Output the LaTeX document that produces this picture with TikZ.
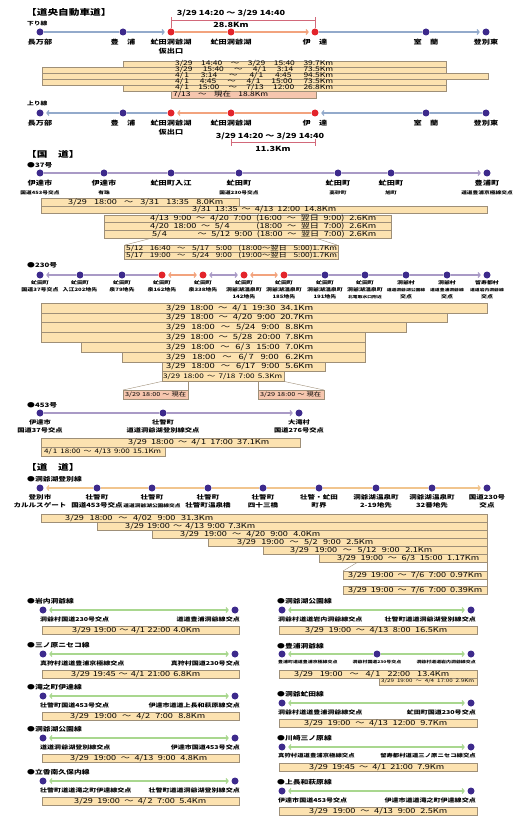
\documentclass[tikz,border=0pt]{standalone}
\usepackage{fontspec}
\setmainfont[FakeStretch=1.3]{Noto Sans CJK JP}
\usetikzlibrary{positioning, arrows.meta}
\definecolor{StopViolet}{HTML}{3D2A8C}
\definecolor{StopRed}{HTML}{E3242B}
\definecolor{HwyBlue}{HTML}{93AACB}
\definecolor{HwyOrange}{HTML}{F2A37E}
\definecolor{NatLilac}{HTML}{A99AC6}
\definecolor{PrefOrange}{HTML}{F1C58E}
\definecolor{LinkGreen}{HTML}{A9D78F}
\definecolor{BarTan}{HTML}{FCE2B0}
\definecolor{BarEdge}{HTML}{9E8F78}
\definecolor{BarPink}{HTML}{F6C6AE}
\definecolor{DimRed}{HTML}{D2697A}
\newcommand\subplace{\fontsize{4.4}{8.5}\selectfont}
\newcommand\microplace{\fontsize{3.7}{7}\selectfont}

\begin{document}
\begin{tikzpicture}[
  x=1pt, y=-1pt,
  stopdot/.style={circle, fill=StopViolet, inner sep=0pt, minimum size=7pt},
  hotdot/.style={circle, fill=StopRed, inner sep=0pt, minimum size=7pt},
  sectitle/.style={font=\fontsize{8.2}{9}\selectfont\bfseries, anchor=west, inner sep=0pt},
  routename/.style={font=\fontsize{6}{7}\selectfont\bfseries, anchor=west, inner sep=0pt},
  placetxt/.style={font=\fontsize{6.3}{9}\selectfont\bfseries, align=center, inner sep=0pt},
  smallplace/.style={font=\fontsize{4.6}{7}\selectfont\bfseries, align=center, inner sep=0pt},
  endplace/.style={font=\fontsize{5.4}{7}\selectfont\bfseries, inner sep=0pt},
  barbox/.style={draw=BarEdge, fill=BarTan, line width=0.5pt},
  nowbox/.style={draw=BarEdge, fill=BarPink, line width=0.5pt},
  bartext/.style={font=\fontsize{7}{8}\selectfont, anchor=west, inner sep=0pt},
  fanline/.style={draw=BarEdge, line width=0.4pt},
  hwyline/.style={draw=HwyBlue, line width=1.2pt},
  hotline/.style={draw=HwyOrange, line width=1.2pt},
  natline/.style={draw=NatLilac, line width=1.2pt},
  prefline/.style={draw=PrefOrange, line width=1.2pt},
  linkline/.style={draw=LinkGreen, line width=1.2pt},
  endtip/.style={-{Straight Barb[length=2pt, width=5pt]}, shorten >=2.5pt},
  bothtips/.style={{Straight Barb[length=2pt, width=5pt]}-{Straight Barb[length=2pt, width=5pt]},
    shorten >=2.5pt, shorten <=2.5pt},
  dimline/.style={draw=DimRed, line width=0.5pt},
  dimtext/.style={font=\fontsize{7}{8}\selectfont\bfseries, inner sep=0pt}
]
\useasboundingbox (0,0) rectangle (527,826);

% ---- 道央自動車道 (下り)
\node[sectitle] (hwytitle) at (26,12) {【道央自動車道】};
\node[routename, font=\fontsize{5.2}{6}\selectfont\bfseries] (downlbl) at (27,24) {下り線};

\node[stopdot] (kd1) at (40,32) {};
\node[stopdot] (kd2) at (123,32) {};
\node[hotdot] (kd3) at (171,32) {};
\node[hotdot] (kd4) at (231,32) {};
\node[hotdot] (kd5) at (315,32) {};
\node[stopdot] (kd6) at (426,32) {};
\node[stopdot] (kd7) at (486,32) {};

\draw[hwyline] (kd1) -- (kd2);
\draw[hwyline, endtip] (kd2) -- (kd3);
\draw[hotline] (kd3) -- (kd4);
\draw[hotline, endtip] (kd4) -- (kd5);
\draw[hwyline] (kd5) -- (kd6);
\draw[hwyline, endtip] (kd6) -- (kd7);

\node[placetxt, below=3pt of kd1] (kd1t) {長万部};
\node[placetxt, below=3pt of kd2] (kd2t) {豊　浦};
\node[placetxt, below=3pt of kd3] (kd3t) {虻田洞爺湖\\仮出口};
\node[placetxt, below=3pt of kd4] (kd4t) {虻田洞爺湖};
\node[placetxt, below=3pt of kd5] (kd5t) {伊　達};
\node[placetxt, below=3pt of kd6] (kd6t) {室　蘭};
\node[placetxt, below=3pt of kd7] (kd7t) {登別東};

% span above the closed section
\coordinate (dimA) at (171,20);
\coordinate (dimB) at (315,20);
\draw[dimline] (kd3.north) -- ++(0,-11);
\draw[dimline] (kd5.north) -- ++(0,-11);
\draw[dimline] (dimA) -- (dimB);
\node[dimtext] (dimtime1) at (231,13) {3/29 14:20 ～ 3/29 14:40};
\node[dimtext] (dimlen1) at (231,25) {28.8Km};

\path[barbox] (123,61) rectangle (446,67);
\path[barbox] (42,67) rectangle (446,73);
\path[barbox] (42,73) rectangle (488,79);
\path[barbox] (42,79) rectangle (446,85);
\path[barbox] (123,85) rectangle (446,91);
\path[nowbox] (171,91) rectangle (316,98);
\node[bartext, font=\fontsize{6.5}{7}\selectfont] (kb1) at (175,64) {\makebox[158pt][s]{3/29 14:40 ～ 3/29 15:40 39.7Km}};
\node[bartext, font=\fontsize{6.5}{7}\selectfont] (kb2) at (175,70) {\makebox[158pt][s]{3/29 15:40 ～ 4/\,1 3:14 73.5Km}};
\node[bartext, font=\fontsize{6.5}{7}\selectfont] (kb3) at (175,76) {\makebox[158pt][s]{4/\,1 3:14 ～ 4/\,1 4:45 94.5Km}};
\node[bartext, font=\fontsize{6.5}{7}\selectfont] (kb4) at (175,82) {\makebox[158pt][s]{4/\,1 4:45 ～ 4/\,1 15:00 73.5Km}};
\node[bartext, font=\fontsize{6.5}{7}\selectfont] (kb5) at (175,88) {\makebox[158pt][s]{4/\,1 15:00 ～ 7/13 12:00 26.8Km}};
\node[bartext, font=\fontsize{6.5}{7}\selectfont] (kb6) at (173,94.5) {\makebox[95pt][s]{7/13 ～ 現在 18.8Km}};

% ---- 道央自動車道 (上り)
\node[routename, font=\fontsize{5.2}{6}\selectfont\bfseries] (uplbl) at (27,104) {上り線};

\node[stopdot] (ku1) at (40,113) {};
\node[stopdot] (ku2) at (123,113) {};
\node[hotdot] (ku3) at (171,113) {};
\node[hotdot] (ku4) at (231,113) {};
\node[hotdot] (ku5) at (315,113) {};
\node[stopdot] (ku6) at (426,113) {};
\node[stopdot] (ku7) at (486,113) {};

\draw[hwyline] (ku3) -- (ku2);
\draw[hwyline, endtip] (ku2) -- (ku1);
\draw[hotline] (ku5) -- (ku4);
\draw[hotline, endtip] (ku4) -- (ku3);
\draw[hwyline] (ku7) -- (ku6);
\draw[hwyline, endtip] (ku6) -- (ku5);

\node[placetxt, below=3pt of ku1] (ku1t) {長万部};
\node[placetxt, below=3pt of ku2] (ku2t) {豊　浦};
\node[placetxt, below=3pt of ku3] (ku3t) {虻田洞爺湖\\仮出口};
\node[placetxt, below=3pt of ku4] (ku4t) {虻田洞爺湖};
\node[placetxt, below=3pt of ku5] (ku5t) {伊　達};
\node[placetxt, below=3pt of ku6] (ku6t) {室　蘭};
\node[placetxt, below=3pt of ku7] (ku7t) {登別東};

\coordinate (dimC) at (231,142);
\coordinate (dimD) at (315,142);
\draw[dimline] (dimC) -- (dimD);
\draw[dimline] (dimC) ++(0,-3) -- ++(0,7);
\draw[dimline] (dimD) ++(0,-3) -- ++(0,7);
\node[dimtext] (dimtime2) at (270,136) {3/29 14:20 ～ 3/29 14:40};
\node[dimtext] (dimlen2) at (273,149) {11.3Km};

% ---- 国道 37号
\node[sectitle] (nattitle) at (26,154) {【国　道】};
\node[routename] (r37) at (27,165) {●37号};

\node[stopdot] (n37a) at (40,173) {};
\node[stopdot] (n37b) at (104,173) {};
\node[stopdot] (n37c) at (171,173) {};
\node[stopdot] (n37d) at (239,173) {};
\node[stopdot] (n37e) at (338,173) {};
\node[stopdot] (n37f) at (391,173) {};
\node[stopdot] (n37g) at (487,173) {};
\draw[natline, endtip] (n37a) -- (n37b) -- (n37c) -- (n37d) -- (n37e) -- (n37f) -- (n37g);

\node[placetxt, below=3pt of n37a] (n37at) {伊達市\\\subplace 国道453号交点};
\node[placetxt, below=3pt of n37b] (n37bt) {伊達市\\\subplace 有珠};
\node[placetxt, below=3pt of n37c] (n37ct) {虻田町入江};
\node[placetxt, below=3pt of n37d] (n37dt) {虻田町\\\subplace 国道230号交点};
\node[placetxt, below=3pt of n37e] (n37et) {虻田町\\\subplace 高砂町};
\node[placetxt, below=3pt of n37f] (n37ft) {虻田町\\\subplace 旭町};
\node[placetxt, below=3pt of n37g] (n37gt) {豊浦町\\\subplace 道道豊浦京極線交点};

\path[barbox] (41,198) rectangle (239,205.8);
\path[barbox] (41,205.8) rectangle (487,213.6);
\path[barbox] (104,215) rectangle (391,222.6);
\path[barbox] (104,222.6) rectangle (391,230.2);
\path[barbox] (104,230.2) rectangle (391,237.8);
\draw[fanline] (153,237.8) -- (125,245);
\draw[fanline] (315,237.8) -- (337,245);
\path[barbox] (124,245) rectangle (338,252);
\path[barbox] (124,252) rectangle (338,259);
\node[bartext] (nb1) at (68,201.9) {\makebox[155pt][s]{3/29 18:00 ～ 3/31 13:35 8.0Km}};
\node[bartext] (nb2) at (192,209.7) {\makebox[144pt][s]{3/31 13:35 ～ 4/13 12:00 14.8Km}};
\node[bartext] (nb3) at (150,218.8) {\makebox[226pt][s]{4/13 9:00 ～ 4/20 7:00 (16:00 ～ 翌日 9:00) 2.6Km}};
\node[bartext] (nb4) at (150,226.4) {\makebox[226pt][s]{4/20 18:00 ～ 5/\,4\hspace{22pt} (18:00 ～ 翌日 7:00) 2.6Km}};
\node[bartext] (nb5) at (152,234) {\makebox[224pt][s]{5/\,4\hspace{26pt} ～ 5/12 9:00 (18:00 ～ 翌日 7:00) 2.6Km}};
\node[bartext, font=\fontsize{6.4}{7}\selectfont] (nb6) at (126,248.5) {\makebox[211pt][s]{5/12 16:40 ～ 5/17 5:00 (18:00～翌日 5:00)1.7Km}};
\node[bartext, font=\fontsize{6.4}{7}\selectfont] (nb7) at (126,255.5) {\makebox[211pt][s]{5/17 19:00 ～ 5/24 9:00 (19:00～翌日 5:00)1.7Km}};

% ---- 国道 230号
\node[routename] (r230) at (27,265) {●230号};

\node[stopdot] (n230a) at (40,275) {};
\node[stopdot] (n230b) at (80,275) {};
\node[stopdot] (n230c) at (122,275) {};
\node[hotdot] (n230d) at (162,275) {};
\node[hotdot] (n230e) at (203,275) {};
\node[hotdot] (n230f) at (244,275) {};
\node[hotdot] (n230g) at (284,275) {};
\node[stopdot] (n230h) at (325,275) {};
\node[stopdot] (n230i) at (365,275) {};
\node[stopdot] (n230j) at (406,275) {};
\node[stopdot] (n230k) at (447,275) {};
\node[stopdot] (n230l) at (487,275) {};
\draw[natline, endtip] (n230d) -- (n230c) -- (n230b) -- (n230a);
\draw[hotline, bothtips] (n230d) -- (n230e);
\draw[natline, bothtips] (n230e) -- (n230f);
\draw[hotline, bothtips] (n230f) -- (n230g);
\draw[natline, endtip] (n230g) -- (n230h) -- (n230i) -- (n230j) -- (n230k) -- (n230l);

\node[smallplace, below=1.5pt of n230a] (n230at) {虻田町\\国道37号交点};
\node[smallplace, below=1.5pt of n230b] (n230bt) {虻田町\\入江202地先};
\node[smallplace, below=1.5pt of n230c] (n230ct) {虻田町\\泉79地先};
\node[smallplace, below=1.5pt of n230d] (n230dt) {虻田町\\泉162地先};
\node[smallplace, below=1.5pt of n230e] (n230et) {虻田町\\泉338地先};
\node[smallplace, below=1.5pt of n230f] (n230ft) {虻田町\\洞爺湖温泉町\\142地先};
\node[smallplace, below=1.5pt of n230g] (n230gt) {虻田町\\洞爺湖温泉町\\185地先};
\node[smallplace, below=1.5pt of n230h] (n230ht) {虻田町\\洞爺湖温泉町\\191地先};
\node[smallplace, below=1.5pt of n230i] (n230it) {虻田町\\洞爺湖温泉町\\\microplace 北電取水口附近};
\node[smallplace, below=1.5pt of n230j] (n230jt) {洞爺村\\\microplace 道道洞爺湖公園線\\交点};
\node[smallplace, below=1.5pt of n230k] (n230kt) {洞爺村\\\microplace 道道豊浦洞爺線\\交点};
\node[smallplace, below=1.5pt of n230l] (n230lt) {留寿都村\\\microplace 道道岩内洞爺線\\交点};

\path[barbox] (41,303) rectangle (487,312.8);
\path[barbox] (41,312.8) rectangle (447,322.6);
\path[barbox] (41,322.6) rectangle (406,332.4);
\path[barbox] (41,332.4) rectangle (365,342.2);
\path[barbox] (81,342.2) rectangle (365,352);
\path[barbox] (122,352) rectangle (365,361.8);
\path[barbox] (162,361.8) rectangle (325,371.6);
\path[barbox] (162,371.6) rectangle (284,381.4);
\node[bartext, font=\fontsize{7.2}{8}\selectfont] (sb1) at (166,307.9) {\makebox[147pt][s]{3/29 18:00 ～ 4/\,1 19:30 34.1Km}};
\node[bartext, font=\fontsize{7.2}{8}\selectfont] (sb2) at (166,317.7) {\makebox[147pt][s]{3/29 18:00 ～ 4/20 9:00 20.7Km}};
\node[bartext, font=\fontsize{7.2}{8}\selectfont] (sb3) at (166,327.5) {\makebox[147pt][s]{3/29 18:00 ～ 5/24 9:00 8.8Km}};
\node[bartext, font=\fontsize{7.2}{8}\selectfont] (sb4) at (166,337.3) {\makebox[147pt][s]{3/29 18:00 ～ 5/28 20:00 7.8Km}};
\node[bartext, font=\fontsize{7.2}{8}\selectfont] (sb5) at (166,347.1) {\makebox[147pt][s]{3/29 18:00 ～ 6/\,3 15:00 7.0Km}};
\node[bartext, font=\fontsize{7.2}{8}\selectfont] (sb6) at (166,356.9) {\makebox[147pt][s]{3/29 18:00 ～ 6/\,7 9:00 6.2Km}};
\node[bartext, font=\fontsize{7.2}{8}\selectfont] (sb7) at (166,366.7) {\makebox[147pt][s]{3/29 18:00 ～ 6/17 9:00 5.6Km}};
\node[bartext, font=\fontsize{6.3}{7}\selectfont] (sb8) at (163,376.5) {\makebox[119pt][s]{3/29 18:00 ～ 7/18 7:00 5.3Km}};

\draw[fanline] (162,381.4) -- (123,390);
\draw[fanline] (188,381.4) -- (188,390);
\draw[fanline] (258,381.4) -- (258,390);
\draw[fanline] (284,381.4) -- (324,390);
\path[nowbox] (123,390) rectangle (188,399);
\path[nowbox] (258,390) rectangle (324,399);
\node[bartext, font=\fontsize{5.6}{6}\selectfont] (sn1) at (125,394.5) {\makebox[61pt][s]{3/29 18:00 ～ 現在}};
\node[bartext, font=\fontsize{5.6}{6}\selectfont] (sn2) at (260,394.5) {\makebox[61pt][s]{3/29 18:00 ～ 現在}};

% ---- 国道 453号
\node[routename] (r453) at (27,405) {●453号};

\node[stopdot] (n453a) at (40,413) {};
\node[stopdot] (n453b) at (163,413) {};
\node[stopdot] (n453c) at (299,413) {};
\draw[natline, endtip] (n453a) -- (n453b) -- (n453c);

\node[placetxt, font=\fontsize{5.6}{8.5}\selectfont\bfseries, below=2.5pt of n453a] (n453at) {伊達市\\国道37号交点};
\node[placetxt, font=\fontsize{5.6}{8.5}\selectfont\bfseries, below=2.5pt of n453b] (n453bt) {壮瞥町\\道道洞爺湖登別線交点};
\node[placetxt, font=\fontsize{5.6}{8.5}\selectfont\bfseries, below=2.5pt of n453c] (n453ct) {大滝村\\国道276号交点};

\path[barbox] (41,438) rectangle (300,447);
\path[barbox] (41,447) rectangle (165,456);
\node[bartext] (fb1) at (128,442.5) {\makebox[141pt][s]{3/29 18:00 ～ 4/\,1 17:00 37.1Km}};
\node[bartext, font=\fontsize{6.2}{7}\selectfont] (fb2) at (44,451.5) {\makebox[117pt][s]{4/\,1 18:00 ～ 4/13 9:00 15.1Km}};

% ---- 道道 洞爺湖登別線
\node[sectitle] (preftitle) at (26,467) {【道　道】};
\node[routename] (rtb) at (27,479) {●洞爺湖登別線};

\node[stopdot] (dd1) at (40,488) {};
\node[stopdot] (dd2) at (97,488) {};
\node[stopdot] (dd3) at (152,488) {};
\node[stopdot] (dd4) at (208,488) {};
\node[stopdot] (dd5) at (263,488) {};
\node[stopdot] (dd6) at (319,488) {};
\node[stopdot] (dd7) at (376,488) {};
\node[stopdot] (dd8) at (432,488) {};
\node[stopdot] (dd9) at (487,488) {};
\draw[prefline, endtip] (dd2) -- (dd1);
\draw[prefline, endtip] (dd2) -- (dd3) -- (dd4) -- (dd5) -- (dd6) -- (dd7) -- (dd8) -- (dd9);

\node[placetxt, font=\fontsize{5.8}{8.5}\selectfont\bfseries, below=2.5pt of dd1] (dd1t) {登別市\\カルルスゲート};
\node[placetxt, font=\fontsize{5.8}{8.5}\selectfont\bfseries, below=2.5pt of dd2] (dd2t) {壮瞥町\\国道453号交点};
\node[placetxt, font=\fontsize{5.8}{8.5}\selectfont\bfseries, below=2.5pt of dd3] (dd3t) {壮瞥町\\\fontsize{4.4}{8.5}\selectfont 道道洞爺湖公園線交点};
\node[placetxt, font=\fontsize{5.8}{8.5}\selectfont\bfseries, below=2.5pt of dd4] (dd4t) {壮瞥町\\壮瞥町温泉橋};
\node[placetxt, font=\fontsize{5.8}{8.5}\selectfont\bfseries, below=2.5pt of dd5] (dd5t) {壮瞥町\\四十三橋};
\node[placetxt, font=\fontsize{5.8}{8.5}\selectfont\bfseries, below=2.5pt of dd6] (dd6t) {壮瞥・虻田\\町界};
\node[placetxt, font=\fontsize{5.8}{8.5}\selectfont\bfseries, below=2.5pt of dd7] (dd7t) {洞爺湖温泉町\\2-19地先};
\node[placetxt, font=\fontsize{5.8}{8.5}\selectfont\bfseries, below=2.5pt of dd8] (dd8t) {洞爺湖温泉町\\32番地先};
\node[placetxt, font=\fontsize{5.8}{8.5}\selectfont\bfseries, below=2.5pt of dd9] (dd9t) {国道230号\\交点};

\path[barbox] (41,514) rectangle (487,522);
\path[barbox] (97,522) rectangle (487,530);
\path[barbox] (152,530) rectangle (487,538);
\path[barbox] (208,538) rectangle (487,546);
\path[barbox] (263,546) rectangle (487,554);
\path[barbox] (319,554) rectangle (487,562);
\draw[fanline] (358,562) -- (343,571);
\draw[fanline] (487,562) -- (487,571);
\path[barbox] (343,571) rectangle (487,579);
\draw[fanline] (487,579) -- (487,586);
\path[barbox] (343,586) rectangle (487,594);
\node[bartext] (db1) at (65,518) {\makebox[148pt][s]{3/29 18:00 ～ 4/02 9:00 31.3Km}};
\node[bartext] (db2) at (125,526) {\makebox[130pt][s]{3/29 19:00 ～ 4/13 9:00 7.3Km}};
\node[bartext] (db3) at (180,534) {\makebox[140pt][s]{3/29 19:00 ～ 4/20 9:00 4.0Km}};
\node[bartext] (db4) at (237,542) {\makebox[136pt][s]{3/29 19:00 ～ 5/2 9:00 2.5Km}};
\node[bartext] (db5) at (290,550) {\makebox[142pt][s]{3/29 19:00 ～ 5/12 9:00 2.1Km}};
\node[bartext] (db6) at (337,558) {\makebox[142pt][s]{3/29 19:00 ～ 6/3 15:00 1.17Km}};
\node[bartext] (db7) at (348,575) {\makebox[134pt][s]{3/29 19:00 ～ 7/6 7:00 0.97Km}};
\node[bartext] (db8) at (348,590) {\makebox[134pt][s]{3/29 19:00 ～ 7/6 7:00 0.39Km}};

% ---- 道道 (左列)
\node[routename] (iwanai) at (27,601) {●岩内洞爺線};
\node[stopdot] (iwanaiA) at (43,610) {};
\node[stopdot] (iwanaiB) at (235,610) {};
\draw[linkline, bothtips] (iwanaiA) -- (iwanaiB);
\node[endplace, anchor=north west] (iwanaiAt) at (40,616.5) {洞爺村国道230号交点};
\node[endplace, anchor=north east] (iwanaiBt) at (240,616.5) {道道豊浦洞爺線交点};
\path[barbox] (42,626) rectangle (239,634);
\node[bartext] (iwanaiT) at (72,630) {\makebox[128pt][s]{3/29 19:00 ～ 4/1 22:00 4.0Km}};

\node[routename] (sannohara) at (27,645) {●三ノ原ニセコ線};
\node[stopdot] (sannoharaA) at (43,654) {};
\node[stopdot] (sannoharaB) at (235,654) {};
\draw[linkline, bothtips] (sannoharaA) -- (sannoharaB);
\node[endplace, anchor=north west] (sannoharaAt) at (40,660.5) {真狩村道道豊浦京極線交点};
\node[endplace, anchor=north east] (sannoharaBt) at (240,660.5) {真狩村国道230号交点};
\path[barbox] (42,670) rectangle (239,678);
\node[bartext] (sannoharaT) at (71,674) {\makebox[129pt][s]{3/29 19:45 ～ 4/1 21:00 6.8Km}};

\node[routename] (takino) at (27,687) {●滝之町伊達線};
\node[stopdot] (takinoA) at (43,696) {};
\node[stopdot] (takinoB) at (235,696) {};
\draw[linkline, bothtips] (takinoA) -- (takinoB);
\node[endplace, anchor=north west] (takinoAt) at (40,702.5) {壮瞥町国道453号交点};
\node[endplace, anchor=north east] (takinoBt) at (240,702.5) {伊達市道道上長和萩原線交点};
\path[barbox] (42,712) rectangle (239,720);
\node[bartext] (takinoT) at (70,716) {\makebox[135pt][s]{3/29 19:00 ～ 4/2 7:00 8.8Km}};

\node[routename] (koen) at (27,729) {●洞爺湖公園線};
\node[stopdot] (koenA) at (43,738) {};
\node[stopdot] (koenB) at (235,738) {};
\draw[linkline, bothtips] (koenA) -- (koenB);
\node[endplace, anchor=north west] (koenAt) at (40,744.5) {道道洞爺湖登別線交点};
\node[endplace, anchor=north east] (koenBt) at (240,744.5) {伊達市国道453号交点};
\path[barbox] (42,754) rectangle (239,762);
\node[bartext] (koenT) at (70,758) {\makebox[137pt][s]{3/29 19:00 ～ 4/13 9:00 4.8Km}};

\node[routename] (tatsuka) at (27,772) {●立香南久保内線};
\node[stopdot] (tatsukaA) at (43,781) {};
\node[stopdot] (tatsukaB) at (235,781) {};
\draw[linkline, bothtips] (tatsukaA) -- (tatsukaB);
\node[endplace, anchor=north west] (tatsukaAt) at (40,787.5) {壮瞥町道道滝之町伊達線交点};
\node[endplace, anchor=north east] (tatsukaBt) at (240,787.5) {壮瞥町道道洞爺湖登別線交点};
\path[barbox] (42,797) rectangle (239,805);
\node[bartext] (tatsukaT) at (74,801) {\makebox[132pt][s]{3/29 19:00 ～ 4/\,2 7:00 5.4Km}};

% ---- 道道 (右列)
\node[routename] (kouen) at (277,601) {●洞爺湖公園線};
\node[stopdot] (kouenA) at (282,610) {};
\node[stopdot] (kouenB) at (471,610) {};
\draw[linkline, bothtips] (kouenA) -- (kouenB);
\node[endplace, anchor=north west] (kouenAt) at (278,616.5) {洞爺村道道岩内洞爺線交点};
\node[endplace, anchor=north east] (kouenBt) at (476,616.5) {壮瞥町道道洞爺湖登別線交点};
\path[barbox] (279,626) rectangle (477,634);
\node[bartext] (kouenT) at (305,630) {\makebox[142pt][s]{3/29 19:00 ～ 4/13 8:00 16.5Km}};

\node[routename] (toyoura) at (277,646) {●豊浦洞爺線};
\node[stopdot] (toyouraA) at (282,654) {};
\node[stopdot] (toyouraM) at (377,654) {};
\node[stopdot] (toyouraB) at (471,654) {};
\draw[linkline, endtip] (toyouraM) -- (toyouraA);
\draw[linkline, endtip] (toyouraM) -- (toyouraB);
\node[endplace, font=\fontsize{3.8}{5}\selectfont\bfseries, anchor=north west] (toyouraAt) at (278,660.5) {豊浦町道道豊浦京極線交点};
\node[endplace, font=\fontsize{3.8}{5}\selectfont\bfseries, anchor=north] (toyouraMt) at (377,660.5) {洞爺村国道230号交点};
\node[endplace, font=\fontsize{3.8}{5}\selectfont\bfseries, anchor=north east] (toyouraBt) at (476,660.5) {洞爺村道道岩内洞爺線交点};
\path[barbox] (279,670) rectangle (477,678);
\path[barbox] (379,678) rectangle (477,685);
\node[bartext] (toyouraT) at (294,674) {\makebox[155pt][s]{3/29 19:00 ～ 4/\,1 22:00 13.4Km}};
\node[bartext, font=\fontsize{4.8}{5}\selectfont] (toyouraS) at (381,681.5) {\makebox[93pt][s]{3/29 19:00 ～ 4/4 17:00 2.9Km}};

\node[routename] (abuta) at (277,694) {●洞爺虻田線};
\node[stopdot] (abutaA) at (282,703) {};
\node[stopdot] (abutaB) at (471,703) {};
\draw[linkline, bothtips] (abutaA) -- (abutaB);
\node[endplace, anchor=north west] (abutaAt) at (278,709.5) {洞爺村道道豊浦洞爺線交点};
\node[endplace, anchor=north east] (abutaBt) at (476,709.5) {虻田町国道230号交点};
\path[barbox] (279,719) rectangle (477,727);
\node[bartext] (abutaT) at (304,723) {\makebox[143pt][s]{3/29 19:00 ～ 4/13 12:00 9.7Km}};

\node[routename] (kawasaki) at (277,738) {●川崎三ノ原線};
\node[stopdot] (kawasakiA) at (282,747) {};
\node[stopdot] (kawasakiB) at (471,747) {};
\draw[linkline, bothtips] (kawasakiA) -- (kawasakiB);
\node[endplace, font=\fontsize{4.9}{6}\selectfont\bfseries, anchor=north west] (kawasakiAt) at (278,753.5) {真狩村道道豊浦京極線交点};
\node[endplace, font=\fontsize{4.9}{6}\selectfont\bfseries, anchor=north east] (kawasakiBt) at (476,753.5) {留寿都村道道三ノ原ニセコ線交点};
\path[barbox] (279,763) rectangle (477,771);
\node[bartext] (kawasakiT) at (309,767) {\makebox[135pt][s]{3/29 19:45 ～ 4/1 21:00 7.9Km}};

\node[routename] (kaminaga) at (277,782) {●上長和萩原線};
\node[stopdot] (kaminagaA) at (282,791) {};
\node[stopdot] (kaminagaB) at (471,791) {};
\draw[linkline, bothtips] (kaminagaA) -- (kaminagaB);
\node[endplace, anchor=north west] (kaminagaAt) at (278,797.5) {伊達市国道453号交点};
\node[endplace, anchor=north east] (kaminagaBt) at (476,797.5) {伊達市道道滝之町伊達線交点};
\path[barbox] (279,807) rectangle (477,815);
\node[bartext] (kaminagaT) at (309,811) {\makebox[138pt][s]{3/29 19:00 ～ 4/13 9:00 2.5Km}};
\end{tikzpicture}
\end{document}
